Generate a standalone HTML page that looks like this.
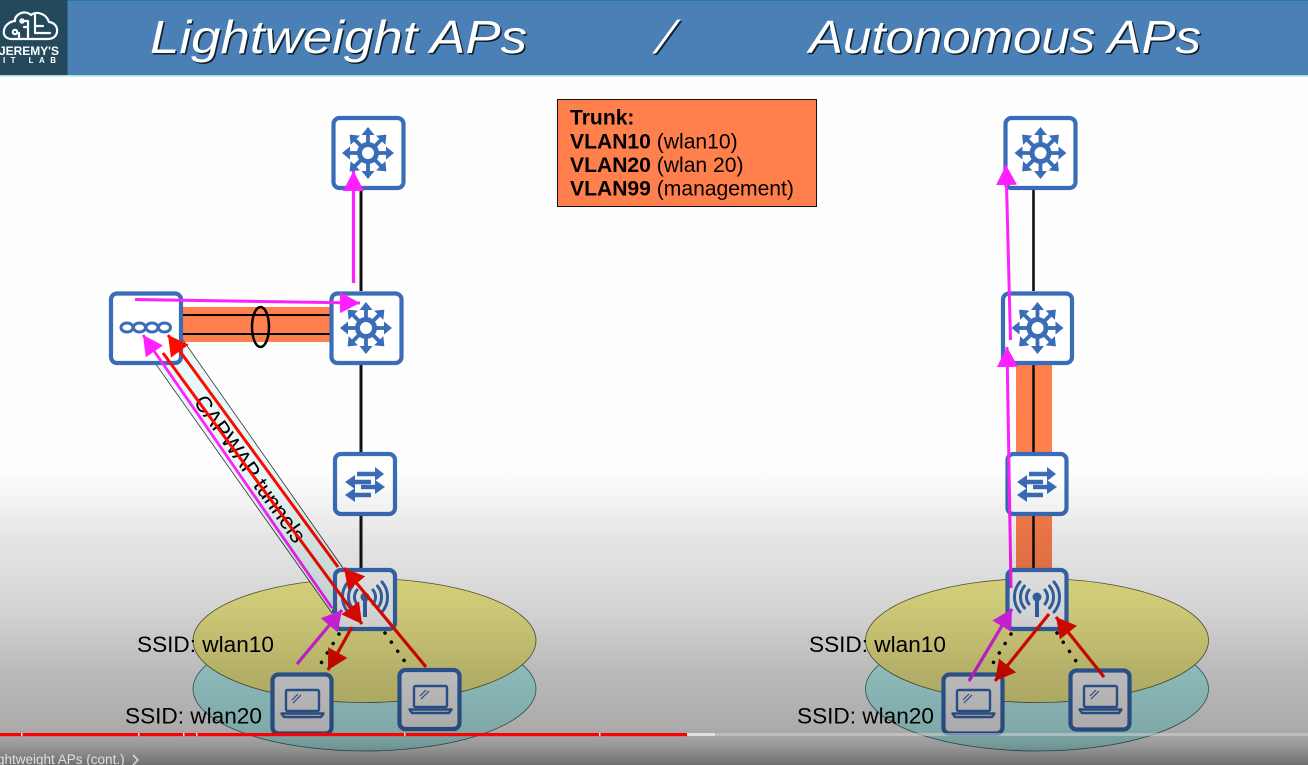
<!DOCTYPE html>
<html><head><meta charset="utf-8"><style>
html,body{margin:0;padding:0;background:#fff}
svg{display:block}
text{font-family:"Liberation Sans",sans-serif}
</style></head><body>
<svg width="1308" height="765" viewBox="0 0 1308 765" xmlns="http://www.w3.org/2000/svg" style="overflow:hidden">
<defs>
<linearGradient id="shade" x1="0" y1="0" x2="0" y2="765" gradientUnits="userSpaceOnUse">
<stop offset="0.614" stop-color="#000" stop-opacity="0"/>
<stop offset="0.706" stop-color="#000" stop-opacity="0.1"/>
<stop offset="0.793" stop-color="#000" stop-opacity="0.165"/>
<stop offset="0.88" stop-color="#000" stop-opacity="0.27"/>
<stop offset="0.954" stop-color="#000" stop-opacity="0.33"/>
<stop offset="0.975" stop-color="#000" stop-opacity="0.4"/>
<stop offset="1" stop-color="#000" stop-opacity="0.56"/>
</linearGradient>
<marker id="mg" markerUnits="userSpaceOnUse" markerWidth="24" markerHeight="24" refX="20" refY="10.500" orient="auto"><path d="M0,0L20,10.500L0,21z" fill="#ff20ff"/></marker>
<marker id="pu" markerUnits="userSpaceOnUse" markerWidth="24" markerHeight="24" refX="20" refY="11" orient="auto"><path d="M0,0L20,11L0,22z" fill="#f028ff"/></marker>
<marker id="rd" markerUnits="userSpaceOnUse" markerWidth="24" markerHeight="24" refX="20" refY="11" orient="auto"><path d="M0,0L20,11L0,22z" fill="#ff0a00"/></marker>
<g id="ml" fill="#3a6db8" stroke="none">
<circle r="8.500" fill="none" stroke="#3a6db8" stroke-width="5"/>
<g id="a1"><path d="M0,-9V-20" stroke="#3a6db8" stroke-width="3.800"/><path d="M0,-26L-6.500,-18H6.500z"/></g>
<use href="#a1" transform="rotate(45)"/><use href="#a1" transform="rotate(90)"/><use href="#a1" transform="rotate(135)"/>
<use href="#a1" transform="rotate(180)"/><use href="#a1" transform="rotate(225)"/><use href="#a1" transform="rotate(270)"/><use href="#a1" transform="rotate(315)"/>
</g>
<g id="sw" fill="#3a6db8">
<path d="M-8,-10H12" stroke="#3a6db8" stroke-width="4.400"/><path d="M19,-10L10,-17V-3z"/>
<path d="M-11,-2H6" stroke="#3a6db8" stroke-width="4.400"/><path d="M-20,-2L-10,-9V5z"/>
<path d="M-4,3H12" stroke="#3a6db8" stroke-width="4.400"/><path d="M20,3L10,-4V10z"/>
<path d="M-11,11H6" stroke="#3a6db8" stroke-width="4.400"/><path d="M-20,11L-10,4V18z"/>
</g>
<g id="ap" fill="none" stroke="#3a6db8" stroke-width="3" stroke-linecap="round">
<circle r="4.500" fill="#3a6db8" stroke="none"/>
<path d="M0,0V20" stroke-width="4" stroke-linecap="butt"/>
<path d="M-8,-7A11,11 0 0 0 -8,7M8,-7A11,11 0 0 1 8,7"/>
<path d="M-12.500,-11A17,17 0 0 0 -12.500,11M12.500,-11A17,17 0 0 1 12.500,11"/>
<path d="M-17,-15A23,23 0 0 0 -17,15M17,-15A23,23 0 0 1 17,15"/>
</g>
<g id="lt" fill="none" stroke="#3a6db8">
<rect x="-16" y="-13" width="33" height="21" rx="1.500" stroke-width="2.400"/>
<path d="M-10,-3L-4,-9M-9,0L-1,-8" stroke-width="1.200"/>
<path d="M-20.500,10.500H21.500L19,14H-18z" stroke-width="2.400" stroke-linejoin="round"/>
</g>
</defs>

<rect width="1308" height="765" fill="#fefefe"/>

<!-- left panel -->
<ellipse cx="364.500" cy="689" rx="171.500" ry="62" fill="#bffcfc" stroke="#3f6f70" stroke-width="0.800"/>
<ellipse cx="364.500" cy="640.500" rx="171.500" ry="62" fill="#f6f08e" stroke="#5f5c30" stroke-width="0.800"/>
<rect x="182" y="307" width="148" height="35" fill="#ff7f4d"/>
<path d="M182,315H330M182,334H330" stroke="#000" stroke-width="2"/>
<ellipse cx="260.500" cy="327" rx="8.500" ry="20" fill="none" stroke="#000" stroke-width="2.500"/>
<path d="M361,189V291M361,364V452M361,515V568" stroke="#111" stroke-width="3"/>
<polygon points="183,340 343,568 332,613 155,363" fill="#e8f8f8" stroke="#333" stroke-width="0.800"/>
<path d="M339,634L318,668M385,633L408,666" stroke="#000" stroke-width="3.500" stroke-dasharray="0.100 11" stroke-linecap="round" fill="none"/>

<g fill="#fff" stroke="#3a6db8" stroke-width="4.200">
<rect x="333.500" y="118" width="70" height="70" rx="6"/>
<rect x="331.500" y="293.500" width="70" height="69.500" rx="6"/>
<rect x="111" y="293.500" width="70" height="69.500" rx="6"/>
<rect x="335" y="454" width="60" height="60" rx="6"/>
<rect x="335" y="570" width="60" height="59" rx="6"/>
<rect x="272.500" y="674.500" width="59" height="59" rx="6"/>
<rect x="399.500" y="670" width="60" height="59" rx="6"/>
</g>
<use href="#ml" x="368" y="153"/>
<use href="#ml" x="366" y="328"/>
<g fill="none" stroke="#3a6db8" stroke-width="3"><ellipse cx="127" cy="327.500" rx="6" ry="4.500"/><ellipse cx="139.500" cy="327.500" rx="6" ry="4.500"/><ellipse cx="152" cy="327.500" rx="6" ry="4.500"/><ellipse cx="164.500" cy="327.500" rx="6" ry="4.500"/></g>
<use href="#sw" x="365" y="484"/>
<use href="#ap" x="365" y="597"/>
<use href="#lt" x="302" y="703"/>
<use href="#lt" x="430" y="699"/>

<text x="137" y="652" font-size="22.600" fill="#000">SSID: wlan10</text>
<text x="125" y="723.500" font-size="22.600" fill="#000">SSID: wlan20</text>
<text transform="translate(193,402) rotate(54.500)" font-size="22.500" fill="#000">CAPWAP tunnels</text>

<g fill="none">
<path d="M353.500,283V171" stroke="#ff20ff" stroke-width="3.200" marker-end="url(#mg)"/>
<path d="M135,299.500L360,303" stroke="#ff20ff" stroke-width="3" marker-end="url(#mg)"/>
<path d="M332,608L143,335" stroke="#ff20ff" stroke-width="2.800" marker-end="url(#mg)"/>
<path d="M163,353L362,624" stroke="#ff0a00" stroke-width="3" marker-end="url(#rd)"/>
<path d="M338,567L168,335" stroke="#ff0a00" stroke-width="3" marker-end="url(#rd)"/>
<path d="M426,667L344,568" stroke="#ff0a00" stroke-width="3.200" marker-end="url(#rd)"/>
<path d="M352,627L328,670" stroke="#ff0a00" stroke-width="3.200" marker-end="url(#rd)"/>
<path d="M297,664L342,610" stroke="#f028ff" stroke-width="3.200" marker-end="url(#pu)"/>
</g>

<!-- trunk box -->
<rect x="557.500" y="99.500" width="259" height="107" fill="#ff7f4d" stroke="#111" stroke-width="1"/>
<g font-size="21.100" fill="#000">
<text x="570" y="124.500" font-weight="bold">Trunk:</text>
<text x="570" y="148.500"><tspan font-weight="bold">VLAN10</tspan> (wlan10)</text>
<text x="570" y="172"><tspan font-weight="bold">VLAN20</tspan> (wlan 20)</text>
<text x="570" y="195.500"><tspan font-weight="bold">VLAN99</tspan> (management)</text>
</g>

<!-- right panel -->
<ellipse cx="1037" cy="689" rx="171.500" ry="62" fill="#bffcfc" stroke="#3f6f70" stroke-width="0.800"/>
<ellipse cx="1037" cy="640.500" rx="171.500" ry="62" fill="#f6f08e" stroke="#5f5c30" stroke-width="0.800"/>
<rect x="1016" y="364" width="36" height="204" fill="#ff7f4d"/>
<path d="M1033.500,189V291M1033.500,364V568" stroke="#111" stroke-width="2.600"/>
<path d="M1011,634L990,668M1057,633L1080,667" stroke="#000" stroke-width="3.500" stroke-dasharray="0.100 11" stroke-linecap="round" fill="none"/>
<g fill="#fff" stroke="#3a6db8" stroke-width="4.200">
<rect x="1005.500" y="118" width="70" height="70" rx="6"/>
<rect x="1003" y="293.500" width="69" height="69.500" rx="6"/>
<rect x="1007.500" y="454" width="59" height="60" rx="6"/>
<rect x="1007.500" y="570" width="59" height="59" rx="6"/>
<rect x="943.500" y="674.500" width="59" height="59" rx="6"/>
<rect x="1070.500" y="670.500" width="59" height="59" rx="6"/>
</g>
<use href="#ml" x="1040.500" y="153"/>
<use href="#ml" x="1037.500" y="328"/>
<use href="#sw" x="1037" y="484"/>
<use href="#ap" x="1037" y="597"/>
<use href="#lt" x="973" y="703"/>
<use href="#lt" x="1100" y="699"/>
<text x="809" y="652" font-size="22.600" fill="#000">SSID: wlan10</text>
<text x="797" y="723.500" font-size="22.600" fill="#000">SSID: wlan20</text>
<g fill="none">
<path d="M1011,588L1007,347" stroke="#ff20ff" stroke-width="3" marker-end="url(#mg)"/>
<path d="M1010.500,340L1006,165" stroke="#ff20ff" stroke-width="3" marker-end="url(#mg)"/>
<path d="M969,681L1012,609" stroke="#f028ff" stroke-width="3.200" marker-end="url(#pu)"/>
<path d="M1049,614L995,681" stroke="#ff0a00" stroke-width="3.200" marker-end="url(#rd)"/>
<path d="M1104,677L1056,617" stroke="#ff0a00" stroke-width="3.200" marker-end="url(#rd)"/>
</g>

<!-- video shading -->
<rect width="1308" height="765" fill="url(#shade)"/>

<!-- header -->
<rect width="1308" height="75" fill="#4a80b5"/>
<rect width="1308" height="1" fill="#1f7f93"/>
<rect y="75" width="1308" height="1.500" fill="#a8dde0"/>
<rect width="67.500" height="75" fill="#24485c"/>
<g fill="none" stroke="#fff" stroke-width="2.200" stroke-linejoin="round" stroke-linecap="round">
<path d="M11,39H48C60,39 60,23 49,22C46,13 36,11 31,15C24,9 14,15 15,21C3,22 -1,38 11,39Z"/>
<path d="M28,39V21H23M35,33V15M35,26H43M35,33H50M19,39V33M24,27H28"/>
<circle cx="15" cy="32" r="2.200"/>
<circle cx="22" cy="21" r="1.600"/>
</g>
<text x="-1" y="55" font-size="11.500" font-weight="bold" fill="#fff" textLength="60" lengthAdjust="spacingAndGlyphs">JEREMY'S</text>
<text x="3" y="63" font-size="8" font-weight="bold" fill="#fff" textLength="53" lengthAdjust="spacing">IT LAB</text>
<g font-size="46" font-style="italic" style="font-family:'Liberation Sans',sans-serif">
<g fill="#000" opacity="0.75" transform="translate(1.500,1.500)">
<text x="150" y="53" textLength="377" lengthAdjust="spacingAndGlyphs">Lightweight APs</text>
<text transform="translate(655,53) skewX(-15)">/</text>
<text x="809" y="53" textLength="392" lengthAdjust="spacingAndGlyphs">Autonomous APs</text>
</g>
<g fill="#fff">
<text x="150" y="53" textLength="377" lengthAdjust="spacingAndGlyphs">Lightweight APs</text>
<text transform="translate(655,53) skewX(-15)">/</text>
<text x="809" y="53" textLength="392" lengthAdjust="spacingAndGlyphs">Autonomous APs</text>
</g>
</g>

<!-- progress bar -->
<rect x="0" y="733" width="1308" height="3" fill="#d8d8d8" opacity="0.5"/>
<rect x="687" y="733" width="28" height="3" fill="#e0e0e0"/>
<rect x="0" y="733" width="687" height="3.200" fill="#ff0000"/>
<g fill="#e8e8e8"><rect x="21" y="733" width="1.500" height="3.200"/><rect x="138" y="733" width="1.500" height="3.200"/><rect x="183" y="733" width="1.500" height="3.200"/><rect x="196" y="733" width="1.500" height="3.200"/><rect x="404" y="733" width="1.500" height="3.200"/><rect x="599" y="733" width="1.500" height="3.200"/></g>
<text x="-3" y="764" font-size="13.500" fill="#e0e0e0">ghtweight APs (cont.)</text>
<path d="M133,755L138,760L133,765" fill="none" stroke="#e8e8e8" stroke-width="1.300"/>
</svg>
</body></html>
